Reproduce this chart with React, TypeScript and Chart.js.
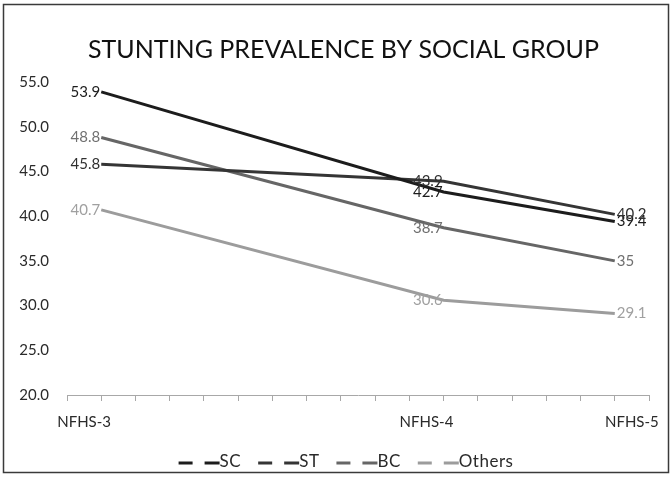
import React, { useEffect, useRef } from "react";
import { Chart, registerables } from "chart.js";

Chart.register(...registerables);

// Survey rounds and the (approximate) year each round is plotted at
const chartTitle = "STUNTING PREVALENCE BY SOCIAL GROUP";
const rounds = ["NFHS-3", "NFHS-4", "NFHS-5"];
const roundYears = [2005, 2015, 2020];
const roundLabelYears = [2004.5, 2014.5, 2020.5];
const yearMin = 2004;
const yearMax = 2021;

// Stunting prevalence (%) per social group
const groups = ["SC", "ST", "BC", "Others"];
const scValues = [53.9, 42.7, 39.4];
const stValues = [45.8, 43.9, 40.2];
const bcValues = [48.8, 38.7, 35];
const othersValues = [40.7, 30.6, 29.1];

const yMin = 20;
const yMax = 55;
const yStep = 5;

const lineColors = ["#1c1c1c", "#353535", "#666666", "#9c9c9c"];
const valueColors = ["#1c1c1c", "#303030", "#707070", "#a0a0a0"];
const FONT = "Lato, 'Open Sans', sans-serif";

const valueLabelPlugin = {
  id: "valueLabels",
  afterDatasetsDraw(chart: any) {
    const ctx = chart.ctx;
    ctx.save();
    ctx.font = `15px ${FONT}`;
    ctx.textBaseline = "middle";
    chart.data.datasets.forEach((ds: any, i: number) => {
      const meta = chart.getDatasetMeta(i);
      ctx.fillStyle = valueColors[i];
      meta.data.forEach((pt: any, j: number) => {
        const v = ds.data[j].y;
        const last = j === meta.data.length - 1;
        ctx.textAlign = last ? "left" : "right";
        ctx.fillText(String(v), last ? pt.x + 2 : pt.x - 1, pt.y);
      });
    });
    ctx.restore();
  },
};

const legendPlugin = {
  id: "dashLegend",
  afterDraw(chart: any) {
    const ctx = chart.ctx;
    ctx.save();
    ctx.font = `17px ${FONT}`;
    (ctx as any).letterSpacing = "0.5px";
    ctx.textBaseline = "middle";
    ctx.textAlign = "left";
    const dashA = 14;
    const gap = 12;
    const dashB = 15;
    const sym = dashA + gap + dashB;
    const itemGap = 17;
    const widths = groups.map((g) => sym + ctx.measureText(g).width);
    const total = widths.reduce((a, b) => a + b, 0) + itemGap * (groups.length - 1);
    let x = chart.width / 2 + 10 - total / 2;
    const y = 462;
    groups.forEach((g, i) => {
      ctx.strokeStyle = lineColors[i];
      ctx.lineWidth = 3;
      ctx.beginPath();
      ctx.moveTo(x, y + 1);
      ctx.lineTo(x + dashA, y + 1);
      ctx.moveTo(x + dashA + gap, y + 1);
      ctx.lineTo(x + sym, y + 1);
      ctx.stroke();
      ctx.fillStyle = "#2a2a2a";
      ctx.fillText(g, x + sym, y);
      x += widths[i] + itemGap;
    });
    ctx.restore();
  },
};

const framePlugin = {
  id: "frame",
  afterDraw(chart: any) {
    const ctx = chart.ctx;
    ctx.save();
    ctx.strokeStyle = "#3a3a3a";
    ctx.lineWidth = 1.5;
    ctx.strokeRect(3.5, 4.5, 665, 468);
    ctx.restore();
  },
};

export default function App() {
  const canvasRef = useRef<HTMLCanvasElement | null>(null);

  useEffect(() => {
    if (!canvasRef.current) return;
    const series = [scValues, stValues, bcValues, othersValues];
    const chart = new Chart(canvasRef.current, {
      type: "line",
      data: {
        datasets: groups.map((g, i) => ({
          label: g,
          data: series[i].map((v, j) => ({ x: roundYears[j], y: v })),
          borderColor: lineColors[i],
          backgroundColor: lineColors[i],
          borderWidth: 3,
          pointRadius: 0,
          tension: 0,
        })),
      },
      options: {
        responsive: false,
        animation: false,
        devicePixelRatio: 1,
        layout: { padding: { top: 0, right: 0, bottom: 38, left: 15 } },
        plugins: {
          legend: { display: false },
          tooltip: { enabled: false },
          title: {
            display: true,
            text: chartTitle,
            color: "#111",
            font: { family: FONT, size: 25, weight: "normal" as any, lineHeight: 1.2 },
            padding: { top: 35, bottom: 17 },
          },
        },
        scales: {
          x: {
            type: "linear",
            position: "bottom",
            min: yearMin,
            max: yearMax,
            ticks: { display: false, stepSize: 1 },
            grid: {
              display: true,
              drawOnChartArea: false,
              drawTicks: true,
              tickLength: 6,
              color: "#a8a8a8",
            },
            border: { display: true, color: "#a8a8a8", width: 1 },
            afterFit(scale: any) {
              scale.height = 6;
            },
          },
          xLabels: {
            type: "linear",
            position: "bottom",
            min: yearMin,
            max: yearMax,
            afterBuildTicks(scale: any) {
              scale.ticks = roundLabelYears.map((v) => ({ value: v }));
            },
            ticks: {
              autoSkip: false,
              maxRotation: 0,
              padding: 12,
              color: "#2a2a2a",
              font: { family: FONT, size: 15 },
              callback: (_v: any, i: number) => rounds[i],
            },
            grid: { display: false, drawTicks: false },
            border: { display: false },
            afterFit(scale: any) {
              scale.height = 40;
            },
          },
          y: {
            min: yMin,
            max: yMax,
            ticks: {
              stepSize: yStep,
              padding: 18,
              color: "#2a2a2a",
              font: { family: FONT, size: 15 },
              callback: (v: any) => Number(v).toFixed(1),
            },
            grid: { display: false, drawTicks: false },
            border: { display: false },
            afterFit(scale: any) {
              scale.width = 52;
            },
          },
          // empty right-hand axis that only reserves margin beside the plot
          yRight: {
            position: "right",
            min: yMin,
            max: yMax,
            ticks: { display: false },
            grid: { display: false, drawTicks: false },
            border: { display: false },
            afterFit(scale: any) {
              scale.width = 23;
            },
          },
        },
      },
      plugins: [valueLabelPlugin, legendPlugin, framePlugin],
    });
    return () => chart.destroy();
  }, []);

  return (
    <div style={{ position: "fixed", left: 0, top: 0, width: 672, height: 479, background: "#fff" }}>
      <canvas ref={canvasRef} width={672} height={479} style={{ width: 672, height: 479, display: "block" }} />
    </div>
  );
}
